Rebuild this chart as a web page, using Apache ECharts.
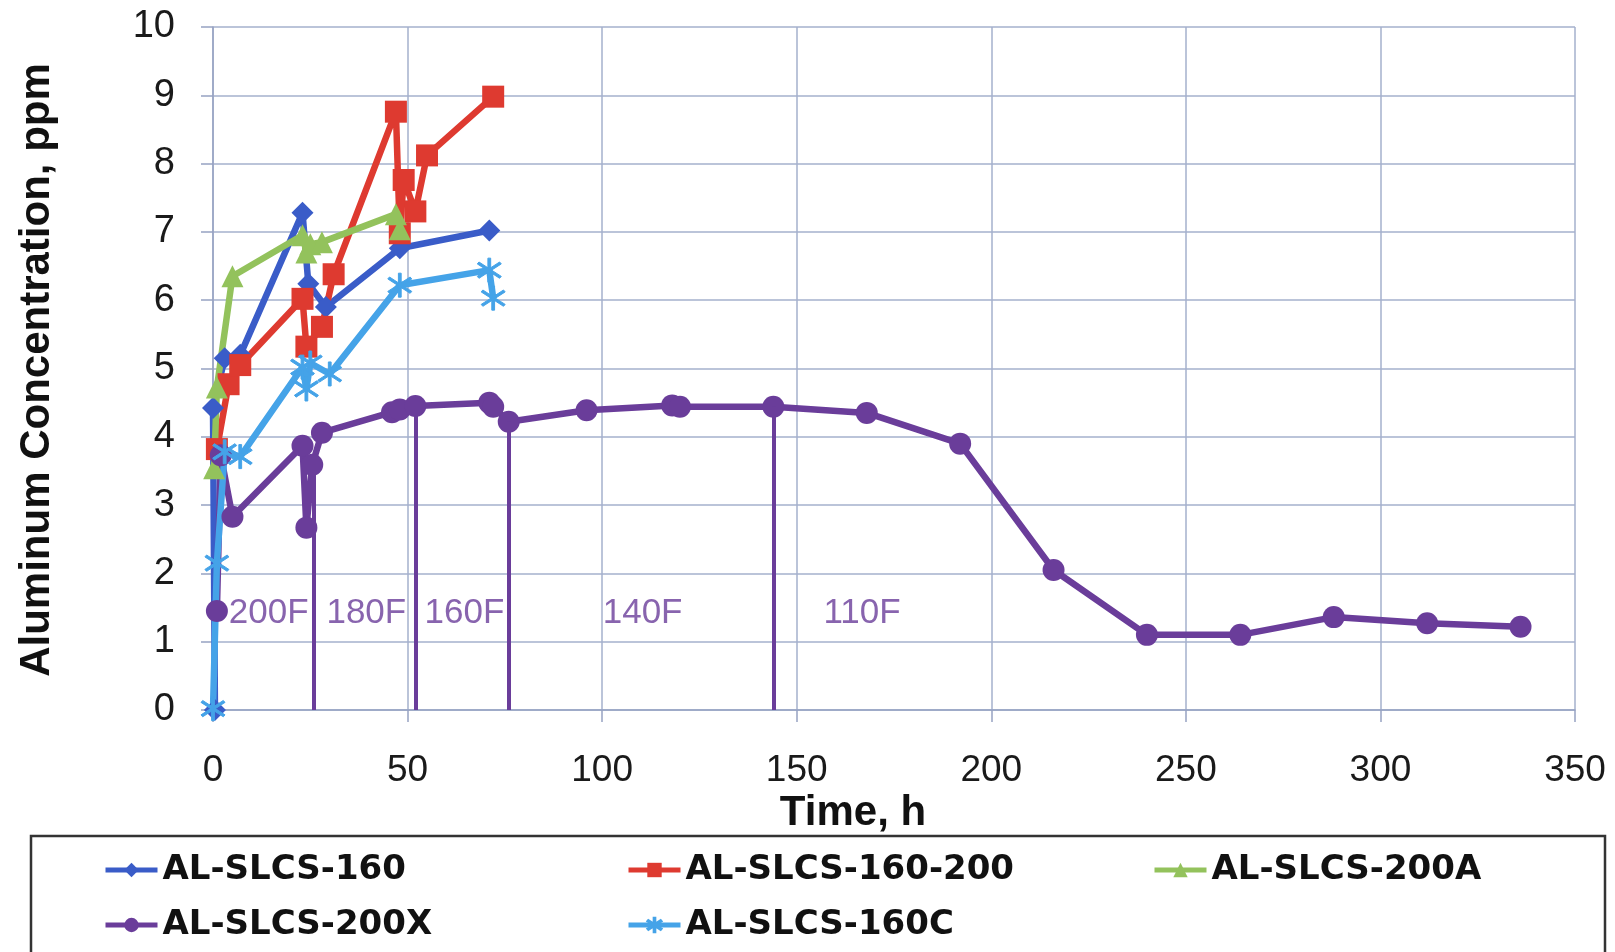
<!DOCTYPE html>
<html>
<head>
<meta charset="utf-8">
<script src="https://cdn.jsdelivr.net/npm/echarts@6/dist/echarts.min.js"></script>
<style>
  html, body { margin: 0; padding: 0; background: #fff; }
  #main { width: 1615px; height: 952px; }
</style>
</head>
<body>
<div id="main"></div>
<script>
// data (time in h, Al in ppm)
var blueT = [0.5, 0, 3, 7, 23, 24.5, 29, 48, 71];
var blueV = [0, 4.42, 5.15, 5.2, 7.28, 6.24, 5.9, 6.76, 7.02];

var redT = [1, 4, 7, 23, 24, 28, 31, 47, 48, 49, 52, 55, 72];
var redV = [3.82, 4.77, 5.05, 6.02, 5.32, 5.61, 6.38, 8.76, 6.98, 7.76, 7.30, 8.12, 8.98];

var greenT = [0.3, 1, 5, 23, 24, 25, 28, 47, 48];
var greenV = [3.54, 4.72, 6.35, 6.95, 6.7, 6.82, 6.85, 7.26, 7.04];

var purpleT = [1, 2, 5, 23, 24, 25.5, 28, 46, 48, 52, 71, 72, 76, 96, 118, 120, 144, 168, 192, 216, 240, 264, 288, 312, 336];
var purpleV = [1.45, 3.73, 2.83, 3.87, 2.67, 3.59, 4.06, 4.36, 4.40, 4.45, 4.50, 4.44, 4.22, 4.39, 4.46, 4.44, 4.44, 4.35, 3.90, 2.05, 1.10, 1.10, 1.36, 1.27, 1.22];

var lightT = [0, 1, 3, 7, 23, 24, 25, 30, 48, 71, 72];
var lightV = [0.02, 2.15, 3.78, 3.71, 5.02, 4.70, 5.08, 4.92, 6.22, 6.44, 6.03];

// temperature step markers
var dividerX = [26, 52, 76, 144];
var dividerTop = [3.59, 4.45, 4.22, 4.44];
var tempLabels = ['200F', '180F', '160F', '140F', '110F'];
var tempX = [14.3, 39.4, 64.6, 110.4, 166.8];
var tempY = 1.42;

var names = ['AL-SLCS-160', 'AL-SLCS-160-200', 'AL-SLCS-200A', 'AL-SLCS-200X', 'AL-SLCS-160C'];
var colors = ['#3a5cc8', '#de3a30', '#93c25c', '#6a3d9a', '#45a3e8'];

var asterisk = 'path://M9,0L11,0L11,20L9,20Z M1.4,4.8L2.6,3.2L18.6,15.2L17.4,16.8Z M2.6,16.8L1.4,15.2L17.4,3.2L18.6,4.8Z';

function pairs(t, v) {
  return t.map(function (x, i) { return [x, v[i]]; });
}

function lineSeries(idx, t, v, symbol, size) {
  return {
    name: names[idx],
    type: 'line',
    data: pairs(t, v),
    symbol: symbol,
    symbolSize: size,
    showAllSymbol: true,
    color: colors[idx],
    lineStyle: { width: 6.5, color: colors[idx] },
    itemStyle: { color: colors[idx], borderWidth: idx === 4 ? 1 : 0, borderColor: colors[idx] },
    animation: false
  };
}

var myChart = echarts.init(document.getElementById('main'));

var purple = lineSeries(3, purpleT, purpleV, 'circle', 22);
purple.markLine = {
  silent: true,
  symbol: ['none', 'none'],
  label: { show: false },
  lineStyle: { color: colors[3], width: 4, type: 'solid' },
  data: dividerX.map(function (x, i) {
    return [{ coord: [x, 0] }, { coord: [x, dividerTop[i]] }];
  })
};

var legendPos = [[103, 853], [626, 853], [1152, 853], [103, 908], [626, 908]];

option = {
  backgroundColor: '#ffffff',
  animation: false,
  grid: { left: 213, right: 40, top: 27, bottom: 242 },
  legend: names.map(function (n, i) {
    return {
      data: [n],
      left: legendPos[i][0],
      top: legendPos[i][1],
      padding: 0,
      itemWidth: 52,
      itemHeight: 18,
      lineStyle: { width: 5 },
      textStyle: { fontFamily: 'DejaVu Sans', fontWeight: 'bold', fontSize: 34, color: '#111' }
    };
  }),
  xAxis: {
    type: 'value',
    min: 0, max: 350, interval: 50,
    axisLine: { show: true, onZero: false, lineStyle: { color: '#97a3c2', width: 1.5 } },
    axisTick: { show: true, length: 12, lineStyle: { color: '#97a3c2', width: 1.5 } },
    splitLine: { show: true, lineStyle: { color: '#a5b0cc', width: 1.5 } },
    axisLabel: { fontFamily: 'Liberation Sans', fontSize: 37, color: '#1a1a1a', margin: 42 }
  },
  yAxis: {
    type: 'value',
    min: 0, max: 10, interval: 1,
    axisLine: { show: true, lineStyle: { color: '#97a3c2', width: 1.5 } },
    axisTick: { show: true, length: 12, lineStyle: { color: '#97a3c2', width: 1.5 } },
    splitLine: { show: true, lineStyle: { color: '#a5b0cc', width: 1.5 } },
    axisLabel: { fontFamily: 'Liberation Sans', fontSize: 38, color: '#1a1a1a', margin: 38 }
  },
  graphic: [
    {
      type: 'text', x: 37, y: 370, rotation: Math.PI / 2,
      style: { text: 'Aluminum Concentration, ppm', fontFamily: 'Liberation Sans', fontWeight: 'bold', fontSize: 42, fill: '#111', textAlign: 'center', textVerticalAlign: 'middle' }
    },
    {
      type: 'text', x: 853, y: 813,
      style: { text: 'Time, h', fontFamily: 'Liberation Sans', fontWeight: 'bold', fontSize: 42, fill: '#111', textAlign: 'center', textVerticalAlign: 'middle' }
    },
    {
      type: 'rect', shape: { x: 31, y: 836, width: 1574, height: 140 },
      style: { fill: 'none', stroke: '#333', lineWidth: 2.5 }
    }
  ],
  series: [
    lineSeries(0, blueT, blueV, 'diamond', 22),
    lineSeries(1, redT, redV, 'rect', 22),
    lineSeries(2, greenT, greenV, 'triangle', 22),
    purple,
    lineSeries(4, lightT, lightV, asterisk, 24),
    {
      name: 'temps',
      type: 'scatter',
      symbolSize: 0,
      silent: true,
      data: tempLabels.map(function (s, i) { return { name: s, value: [tempX[i], tempY] }; }),
      label: {
        show: true, position: 'inside', formatter: '{b}',
        fontFamily: 'Liberation Sans', fontSize: 35, color: '#6a3d9a'
      },
      z: 5
    }
  ]
};

myChart.setOption(option);
</script>
</body>
</html>
